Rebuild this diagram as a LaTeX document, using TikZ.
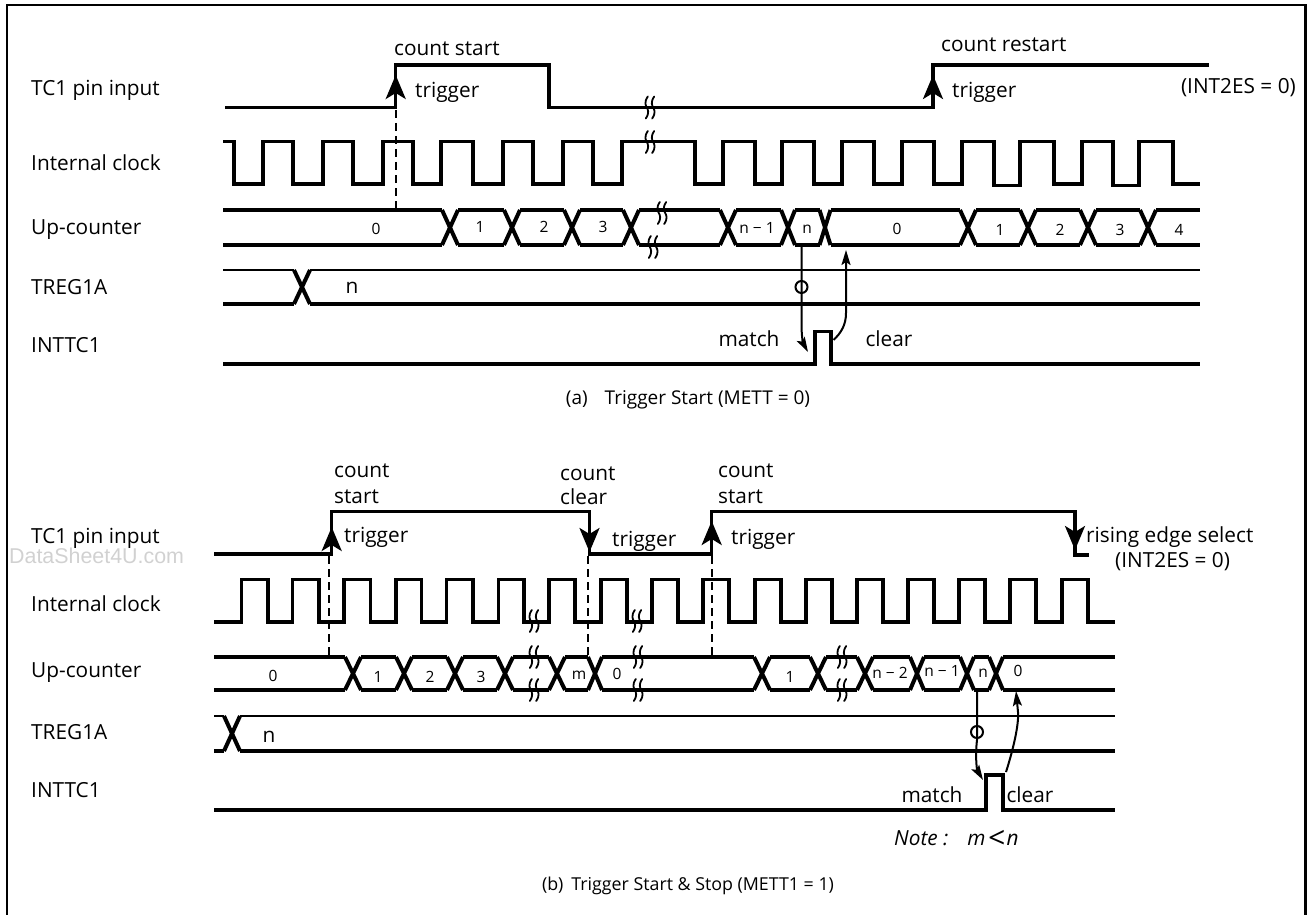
\documentclass[tikz,border=0pt]{standalone}
\usepackage{fontspec}
\setmainfont{Open Sans}
\newfontfamily\wmfont{Liberation Sans}
\usetikzlibrary{arrows.meta}
\tikzset{
  wave/.style={line width=3.4pt,line join=miter,line cap=butt},
  thinwave/.style={line width=2.7pt},
  busx/.style={line width=4pt,line cap=butt},
  dashline/.style={line width=2pt,dash pattern=on 8pt off 5pt},
  trigarrow/.style={line width=3pt,-{Stealth[length=24pt,width=20pt,inset=6pt]}},
  thinarrow/.style={line width=2pt,-{Stealth[length=15pt,width=9pt,inset=3pt]}},
  brk/.style={line width=1.8pt,line cap=round},
  lab/.style={font=\fontsize{20.8}{20.8}\selectfont,anchor=west,inner sep=0pt,text height=19pt,text depth=4pt},
  txt/.style={font=\fontsize{20.8}{20.8}\selectfont,inner sep=0pt,text height=19pt,text depth=4pt},
  val/.style={font=\fontsize{15.5}{15.5}\selectfont,inner sep=0pt,text height=11pt,text depth=3pt},
  ring/.style={line width=2pt},
}
% break mark: two S strokes centred at (x,y)
\newcommand{\brkmark}[2]{%
  \foreach \dd in {-3.2,3.2}{%
    \draw[brk] (#1+\dd+1,#2-11) .. controls (#1+\dd-3,#2-5) and (#1+\dd-1,#2-2) .. (#1+\dd,#2)
      .. controls (#1+\dd+1,#2+2) and (#1+\dd+3,#2+5) .. (#1+\dd-1,#2+11);}}
% bus cross
\newcommand{\busX}[4]{% centre, half, top, bottom
  \draw[busx] (#1-#2,#3) -- (#1+#2,#4);
  \draw[busx] (#1-#2,#4) -- (#1+#2,#3);}
% bus segment between x1 and x2 on both rails
\newcommand{\busS}[4]{%
  \draw[wave] (#1,#3) -- (#2,#3);
  \draw[wave] (#1,#4) -- (#2,#4);}
\begin{document}
\begin{tikzpicture}[x=1pt,y=-1pt]
\useasboundingbox (0,0) rectangle (1309,915);
% frame
\draw[line width=2.2pt] (7,915) -- (7,5) -- (1305.5,5) -- (1305.5,915);
\node[inner sep=0pt,anchor=west,text=black!18,font=\wmfont\fontsize{21.4}{21.4}\selectfont] (wm) at (9,556) {DataSheet4U.com};

%%%%%%%%%%%%%%%%%%%% (a)
\node[lab] (a1) at (31,88) {TC1 pin input};
\node[lab] (a2) at (31,163) {Internal clock};
\node[lab] (a3) at (31,227) {Up-counter};
\node[lab] (a4) at (31,287) {TREG1A};
\node[lab] (a5) at (31,345) {INTTC1};
% TC1
\draw[wave] (225,107.5) -| (395.7,65) -| (549,107.5) -| (933,65) -- (1209,65);
\brkmark{650}{107.5}
\coordinate (ta1) at (395.7,108); \coordinate (ta1t) at (395.7,75);
\coordinate (ta2) at (933,108); \coordinate (ta2t) at (933,75);
\draw[trigarrow] (ta1) -- (ta1t);
\draw[trigarrow] (ta2) -- (ta2t);
\draw[dashline] (395.7,110) -- (395.7,210);
\node[txt,anchor=west] (a6) at (394,48) {count start};
\node[txt,anchor=west] (a7) at (415,90) {trigger};
\node[txt,anchor=west] (a8) at (941,44) {count restart};
\node[txt,anchor=west] (a9) at (952,90) {trigger};
\node[txt,anchor=east] (a10) at (1296,86) {(INT2ES = 0)};
% clock
\draw[wave] (223,141.5) -| (234,184) -| (263,141.5) -| (293,184) -| (323,141.5) -| (353,184) -| (383,141.5) -| (413,184) -| (441,141.5) -| (473,184) -| (503,141.5) -| (533,184) -| (563,141.5) -| (593,184) -| (622,141.5) -| (695,184) -| (723,141.5) -| (755,184) -| (782,141.5) -| (814,184) -| (842,141.5) -| (874,184) -| (902,141.5) -| (934,184) -| (962,141.5) -| (994,185.5) -| (1020,141.5) -| (1054,184) -| (1082,141.5) -| (1113,185.5) -| (1139,141.5) -| (1173,184) -- (1200,184);
\brkmark{650}{142}
% counter
\def\yt{210}\def\yb{245}
\busS{223}{442}{\yt}{\yb}
\busX{450}{8}{\yt}{\yb}
\busS{458}{504}{\yt}{\yb}
\busX{512}{8}{\yt}{\yb}
\busS{520}{564}{\yt}{\yb}
\busX{572}{8}{\yt}{\yb}
\busS{580}{623}{\yt}{\yb}
\busX{631}{8}{\yt}{\yb}
\busS{639}{720}{\yt}{\yb}
\busX{728}{8}{\yt}{\yb}
\busS{736}{781}{\yt}{\yb}
\busX{788}{7}{\yt}{\yb}
\busS{795}{820}{\yt}{\yb}
\busX{825}{5.5}{\yt}{\yb}
\busS{830.5}{960}{\yt}{\yb}
\busX{968}{8}{\yt}{\yb}
\busS{976}{1020}{\yt}{\yb}
\busX{1028}{8}{\yt}{\yb}
\busS{1036}{1080}{\yt}{\yb}
\busX{1088}{8}{\yt}{\yb}
\busS{1096}{1140}{\yt}{\yb}
\busX{1148}{8}{\yt}{\yb}
\busS{1156}{1200}{\yt}{\yb}
\brkmark{662}{213}
\brkmark{653}{247}
\node[val] (av0) at (376,230) {0};
\node[val] (av1) at (480,228) {1};
\node[val] (av2) at (544,228) {2};
\node[val] (av3) at (603,228) {3};
\node[val] (av4) at (757,229) {n − 1};
\node[val] (av5) at (807,229) {n};
\node[val] (av6) at (897,230) {0};
\node[val] (av7) at (1000,231) {1};
\node[val] (av8) at (1060,231) {2};
\node[val] (av9) at (1120,231) {3};
\node[val] (av10) at (1179,231) {4};
% TREG
\draw[thinwave] (223,270) -- (294,270);
\draw[thinwave] (310,270) -- (1200,270);
\draw[wave] (223,304) -- (294,304);
\draw[wave] (310,304) -- (1200,304);
\busX{302}{8}{270}{304}
\node[txt] (a11) at (352,286) {n};
% INTTC
\draw[wave] (223,364) -| (815,331.5) -| (831,364) -- (1200,364);
\node[txt] (a12) at (749,339) {match};
\node[txt] (a13) at (889,339) {clear};
\coordinate (ma0) at (801.5,245); \coordinate (ma1) at (808,352);
\coordinate (ca0) at (833.5,340); \coordinate (ca1) at (846,250);
\draw[thinarrow] (ma0) -- (801.5,325) .. controls (801.5,335) and (803,343) .. (ma1);
\draw[thinarrow] (ca0) .. controls (841,333) and (846,325) .. (846,313) -- (ca1);
\draw[ring] (801.5,287) circle[radius=6];
\node[txt,font=\fontsize{19}{19}\selectfont] (cap1) at (688,397) {(a)\hspace{17pt}Trigger Start (METT = 0)};

%%%%%%%%%%%%%%%%%%%% (b)
\node[lab] (b1) at (31,536) {TC1 pin input};
\node[lab] (b2) at (31,604) {Internal clock};
\node[lab] (b3) at (31,670) {Up-counter};
\node[lab] (b4) at (31,732) {TREG1A};
\node[lab] (b5) at (31,790) {INTTC1};
% TC1
\draw[wave] (214,554) -| (331.7,511.5) -| (589.5,554) -| (711.7,511.5) -| (1075,555) -- (1089,555);
\coordinate (tb1) at (331.7,554); \coordinate (tb1t) at (331.7,527);
\coordinate (tb2) at (589.5,511); \coordinate (tb2t) at (589.5,552);
\coordinate (tb3) at (711.7,554); \coordinate (tb3t) at (711.7,521);
\coordinate (tb4) at (1075,511); \coordinate (tb4t) at (1075,550);
\draw[trigarrow] (tb1) -- (tb1t);
\draw[trigarrow] (tb2) -- (tb2t);
\draw[trigarrow] (tb3) -- (tb3t);
\draw[trigarrow] (tb4) -- (tb4t);
\draw[dashline] (329,556) -- (329,657);
\draw[dashline] (587.5,556) -- (587.5,657);
\draw[dashline] (711.7,556) -- (711.7,657);
\node[txt,anchor=west] (b6) at (334,470) {count};
\node[txt,anchor=west] (b7) at (334,496) {start};
\node[txt,anchor=west] (b8) at (344,535) {trigger};
\node[txt,anchor=west] (b9) at (560,473) {count};
\node[txt,anchor=west] (b10) at (560,497) {clear};
\node[txt,anchor=west] (b11) at (612,539) {trigger};
\node[txt,anchor=west] (b12) at (718,470) {count};
\node[txt,anchor=west] (b13) at (718,496) {start};
\node[txt,anchor=west] (b14) at (731,537) {trigger};
\node[txt,anchor=west] (b15) at (1086,535) {rising edge select};
\node[txt,anchor=west] (b16) at (1115,560) {(INT2ES = 0)};
% clock
\draw[wave] (214,622) -| (241.7,579.5) -| (268,622) -| (292.7,579.5) -| (319,622) -| (344,579.5) -| (370.7,622) -| (396,579.5) -| (421.7,622) -| (446.7,579.5) -| (473,622) -| (498.3,579.5) -| (524,622) -| (549,579.5) -| (575,622) -| (601,579.5) -| (627,622) -| (652,579.5) -| (678,622) -| (703,579.5) -| (729,622) -| (755,579.5) -| (781,622) -| (806,579.5) -| (832,622) -| (857,579.5) -| (883,622) -| (908,579.5) -| (934,622) -| (959,579.5) -| (985,622) -| (1010,579.5) -| (1036,622) -| (1062,579.5) -| (1088,622) -- (1115,622);
\brkmark{534}{621}
\brkmark{637}{621}
% counter
\def\yt{657}\def\yb{690}
\busS{214}{345}{\yt}{\yb}
\busX{353}{8}{\yt}{\yb}
\busS{361}{396}{\yt}{\yb}
\busX{404}{8}{\yt}{\yb}
\busS{412}{447}{\yt}{\yb}
\busX{455}{8}{\yt}{\yb}
\busS{463}{497}{\yt}{\yb}
\busX{505}{8}{\yt}{\yb}
\busS{513}{549}{\yt}{\yb}
\busX{557}{8}{\yt}{\yb}
\busS{565}{588}{\yt}{\yb}
\busX{595}{7}{\yt}{\yb}
\busS{602}{754}{\yt}{\yb}
\busX{762}{8}{\yt}{\yb}
\busS{770}{810}{\yt}{\yb}
\busX{818}{8}{\yt}{\yb}
\busS{826}{857}{\yt}{\yb}
\busX{865}{8}{\yt}{\yb}
\busS{873}{910}{\yt}{\yb}
\busX{917}{7}{\yt}{\yb}
\busS{924}{960}{\yt}{\yb}
\busX{967}{7}{\yt}{\yb}
\busS{974}{989}{\yt}{\yb}
\busX{996}{7}{\yt}{\yb}
\busS{1003}{1115}{\yt}{\yb}
\brkmark{534}{657}
\brkmark{534}{690}
\brkmark{638}{657}
\brkmark{638}{690}
\brkmark{842}{657}
\brkmark{842}{690}
\node[val] (bv0) at (273,677) {0};
\node[val] (bv1) at (378,678) {1};
\node[val] (bv2) at (430,678) {2};
\node[val] (bv3) at (481,678) {3};
\node[val] (bv4) at (579,675) {m};
\node[val] (bv5) at (617,675) {0};
\node[val] (bv6) at (790,678) {1};
\node[val] (bv7) at (890,674) {n − 2};
\node[val] (bv8) at (942,672) {n − 1};
\node[val] (bv9) at (983,673) {n};
\node[val] (bv10) at (1018,672) {0};
% TREG
\draw[thinwave] (214,716) -- (224,716);
\draw[thinwave] (240,716) -- (1115,716);
\draw[wave] (214,751) -- (224,751);
\draw[wave] (240,751) -- (1115,751);
\busX{232}{8}{716}{751}
\node[txt] (b17) at (269,735) {n};
% INTTC
\draw[wave] (214,810) -| (986,775) -| (1003,810) -- (1115,810);
\node[txt] (b18) at (932,795) {match};
\node[txt] (b19) at (1030,795) {clear};
\coordinate (mb0) at (977,690); \coordinate (mb1) at (983,780);
\coordinate (cb0) at (1006,772); \coordinate (cb1) at (1016,691);
\draw[thinarrow] (mb0) -- (977,740) .. controls (975,757) and (977,770) .. (mb1);
\draw[thinarrow] (cb0) .. controls (1013,750) and (1019,725) .. (1018,712) -- (cb1);
\draw[ring] (977,732) circle[radius=6];
\node[txt,font=\fontsize{20.8}{20.8}\selectfont\itshape,anchor=west] (nt) at (894,838) {Note :\hspace{19pt}m\hspace{2pt}\raisebox{-2.5pt}{\fontsize{30}{30}\selectfont <}\hspace{2pt}n};
\node[txt,font=\fontsize{17.8}{17.8}\selectfont] (cap2) at (688,883) {(b)\hspace{8pt}Trigger Start \& Stop (METT1 = 1)};
\end{tikzpicture}
\end{document}
